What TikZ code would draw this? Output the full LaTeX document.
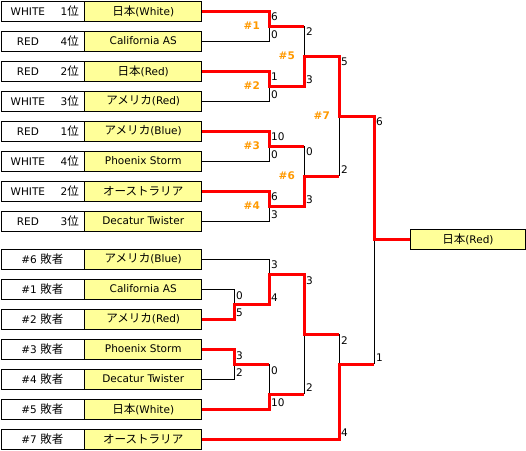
\documentclass[tikz,border=0pt]{standalone}
\usepackage{fontspec}
\setmainfont{DejaVu Sans}
\newfontfamily\jp{Noto Sans CJK JP}[Scale=1.1]
\usetikzlibrary{positioning}
\definecolor{teamyellow}{RGB}{255,255,153}
\definecolor{tagorange}{RGB}{255,153,0}
\newcommand\seedtxt[2]{\hbox to 83pt{\hspace{6pt}\makebox[42pt]{#1}\makebox[30pt][r]{#2{\jp 位}}\hfil}}

\begin{document}
\begin{tikzpicture}[
  x=1pt, y=-1pt,
  font=\fontsize{10.5}{12}\selectfont,
  box/.style={draw, line width=0.8pt, minimum height=20pt, inner sep=0pt},
  lbl/.style={box, fill=white, minimum width=83pt, anchor=west},
  team/.style={box, fill=teamyellow, minimum width=117pt, right=0pt of #1},
  win/.style={draw=red, line width=3pt},
  lose/.style={draw, line width=0.8pt},
  score/.style={inner xsep=2pt, inner ysep=2pt},
  tag/.style={text=tagorange, font=\fontsize{10.5}{12}\selectfont\bfseries, inner sep=0pt, anchor=east, xshift=-9pt}
]
\useasboundingbox (0,0) rectangle (526,450);

\node[lbl] (l1) at (0.5,11) {\seedtxt{WHITE}{1}};
\node[team=l1] (t1) {{\jp 日本}(White)};
\node[lbl] (l2) at (0.5,41) {\seedtxt{RED}{4}};
\node[team=l2] (t2) {California AS};
\node[lbl] (l3) at (0.5,71) {\seedtxt{RED}{2}};
\node[team=l3] (t3) {{\jp 日本}(Red)};
\node[lbl] (l4) at (0.5,101) {\seedtxt{WHITE}{3}};
\node[team=l4] (t4) {{\jp アメリカ}(Red)};
\node[lbl] (l5) at (0.5,131) {\seedtxt{RED}{1}};
\node[team=l5] (t5) {{\jp アメリカ}(Blue)};
\node[lbl] (l6) at (0.5,161) {\seedtxt{WHITE}{4}};
\node[team=l6] (t6) {Phoenix Storm};
\node[lbl] (l7) at (0.5,191) {\seedtxt{WHITE}{2}};
\node[team=l7] (t7) {{\jp オーストラリア}};
\node[lbl] (l8) at (0.5,221) {\seedtxt{RED}{3}};
\node[team=l8] (t8) {Decatur Twister};

\node[lbl] (l9) at (0.5,259) {\#6 {\jp 敗者}};
\node[team=l9] (t9) {{\jp アメリカ}(Blue)};
\node[lbl] (l10) at (0.5,289) {\#1 {\jp 敗者}};
\node[team=l10] (t10) {California AS};
\node[lbl] (l11) at (0.5,319) {\#2 {\jp 敗者}};
\node[team=l11] (t11) {{\jp アメリカ}(Red)};
\node[lbl] (l12) at (0.5,349) {\#3 {\jp 敗者}};
\node[team=l12] (t12) {Phoenix Storm};
\node[lbl] (l13) at (0.5,379) {\#4 {\jp 敗者}};
\node[team=l13] (t13) {Decatur Twister};
\node[lbl] (l14) at (0.5,409) {\#5 {\jp 敗者}};
\node[team=l14] (t14) {{\jp 日本}(White)};
\node[lbl] (l15) at (0.5,439) {\#7 {\jp 敗者}};
\node[team=l15] (t15) {{\jp オーストラリア}};

\node[box, fill=teamyellow, minimum width=115pt, anchor=west] (champ) at (410,239) {{\jp 日本}(Red)};

\coordinate (m1) at (269,26);
\coordinate (m2) at (269,86);
\coordinate (m3) at (269,146);
\coordinate (m4) at (269,206);
\coordinate (m5) at (304,56);
\coordinate (m6) at (304,176);
\coordinate (m7) at (339,116);
\coordinate (n1) at (234,304);
\coordinate (n2) at (269,274);
\coordinate (n3) at (234,364);
\coordinate (n4) at (269,394);
\coordinate (n5) at (304,334);
\coordinate (n6) at (339,364);
\coordinate (fin) at (374,239);

\draw[lose] (t2.east) -| (m1);
\draw[lose] (t4.east) -| (m2);
\draw[lose] (t6.east) -| (m3);
\draw[lose] (t8.east) -| (m4);
\draw[lose] (m1 -| m5) -- (m5);
\draw[lose] (m3 -| m6) -- (m6);
\draw[lose] (m6 -| m7) -- (m7);
\draw[lose] (n6 -| fin) -- (fin);
\draw[lose] (t10.east) -| (n1);
\draw[lose] (t9.east) -| (n2);
\draw[lose] (t13.east) -| (n3);
\draw[lose] (n3 -| n4) -- (n4);
\draw[lose] (n4 -| n5) -- (n5);
\draw[lose] (n5 -| n6) -- (n6);

\draw[win] (t1.east) -| (m1) -- (m1 -| m5);
\draw[win] (t3.east) -| (m2) -- (m2 -| m5) -- (m5) -- (m5 -| m7) -- (m7) -- (m7 -| fin) -- (fin) -- (champ.west);
\draw[win] (t5.east) -| (m3) -- (m3 -| m6);
\draw[win] (t7.east) -| (m4) -- (m4 -| m6) -- (m6) -- (m6 -| m7);
\draw[win] (t11.east) -| (n1) -- (n1 -| n2) -- (n2) -- (n2 -| n5) -- (n5) -- (n5 -| n6);
\draw[win] (t12.east) -| (n3) -- (n3 -| n4);
\draw[win] (t14.east) -| (n4) -- (n4 -| n5);
\draw[win] (t15.east) -| (n6) -- (n6 -| fin);

\node[tag] (k1) at (m1) {\#1};
\node[tag] (k2) at (m2) {\#2};
\node[tag] (k3) at (m3) {\#3};
\node[tag] (k4) at (m4) {\#4};
\node[tag] (k5) at (m5) {\#5};
\node[tag] (k6) at (m6) {\#6};
\node[tag] (k7) at (m7) {\#7};

\node[score, anchor=north west] (s1a) at (m1 |- t1) {6};
\node[score, anchor=south west] (s1b) at (m1 |- t2) {0};
\node[score, anchor=north west] (s2a) at (m2 |- t3) {1};
\node[score, anchor=south west] (s2b) at (m2 |- t4) {0};
\node[score, anchor=north west] (s3a) at (m3 |- t5) {10};
\node[score, anchor=south west] (s3b) at (m3 |- t6) {0};
\node[score, anchor=north west] (s4a) at (m4 |- t7) {6};
\node[score, anchor=south west] (s4b) at (m4 |- t8) {3};
\node[score, anchor=north west] (s5a) at (m5 |- m1) {2};
\node[score, anchor=south west] (s5b) at (m5 |- m2) {3};
\node[score, anchor=north west] (s6a) at (m6 |- m3) {0};
\node[score, anchor=south west] (s6b) at (m6 |- m4) {3};
\node[score, anchor=north west] (s7a) at (m7 |- m5) {5};
\node[score, anchor=south west] (s7b) at (m7 |- m6) {2};
\node[score, anchor=north west] (sfa) at (fin |- m7) {6};
\node[score, anchor=south west] (sfb) at (fin |- n6) {1};
\node[score, anchor=north west] (r1a) at (n1 |- t10) {0};
\node[score, anchor=south west] (r1b) at (n1 |- t11) {5};
\node[score, anchor=north west] (r2a) at (n2 |- t9) {3};
\node[score, anchor=south west] (r2b) at (n2 |- n1) {4};
\node[score, anchor=north west] (r3a) at (n3 |- t12) {3};
\node[score, anchor=south west] (r3b) at (n3 |- t13) {2};
\node[score, anchor=north west] (r4a) at (n4 |- n3) {0};
\node[score, anchor=south west] (r4b) at (n4 |- t14) {10};
\node[score, anchor=north west] (r5a) at (n5 |- n2) {3};
\node[score, anchor=south west] (r5b) at (n5 |- n4) {2};
\node[score, anchor=north west] (r6a) at (n6 |- n5) {2};
\node[score, anchor=south west] (r6b) at (n6 |- t15) {4};
\end{tikzpicture}
\end{document}
